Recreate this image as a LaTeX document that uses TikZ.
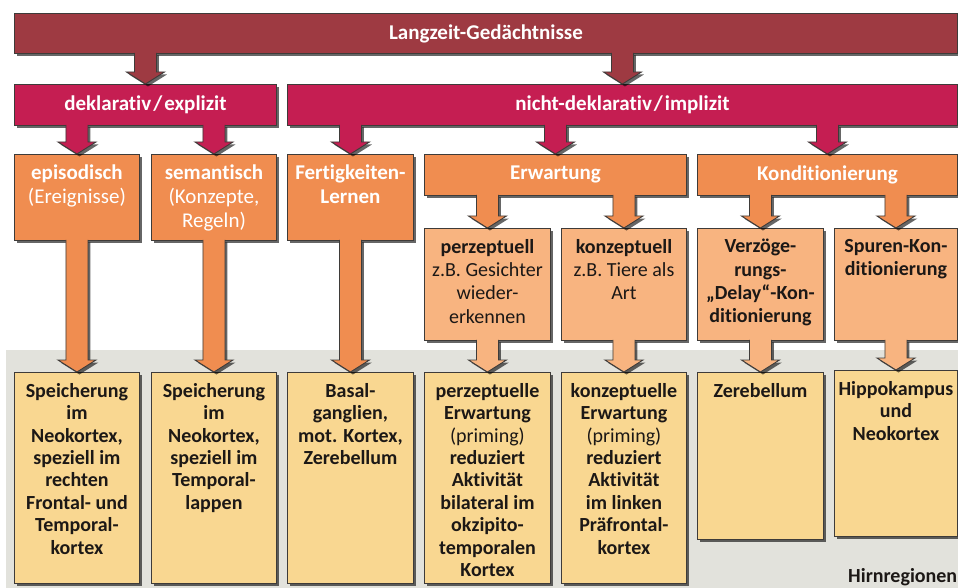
\documentclass[tikz,border=0pt]{standalone}
\usepackage{fontspec}
\setmainfont{Carlito}[Ligatures=NoCommon]
\usetikzlibrary{calc,shadows}
\definecolor{lzgred}{RGB}{158,58,66}
\definecolor{crim}{RGB}{197,30,82}
\definecolor{orng}{RGB}{240,141,80}
\definecolor{lorng}{RGB}{248,180,128}
\definecolor{pale}{RGB}{249,215,145}
\definecolor{grbg}{RGB}{226,226,220}
\definecolor{ink}{RGB}{28,24,22}

\begin{document}
\begin{tikzpicture}[x=1pt,y=-1pt,
    shd/.style={drop shadow={shadow xshift=2.5pt,shadow yshift=-2.5pt,opacity=.6,fill=black}},
    box/.style={draw=ink!85,line width=.9pt,anchor=north west,inner sep=0pt,shd},
    hd/.style={text=white,font=\fontsize{21}{24}\selectfont\bfseries},
    md/.style={text=ink,font=\fontsize{20}{23.3}\selectfont},
    lo/.style={text=ink,font=\fontsize{20}{22.4}\selectfont\bfseries},
    tl/.style={anchor=north,align=center,inner sep=0pt,yshift=-11pt},
    fat/.style={draw=ink!85,line width=.9pt,shd,
      to path={let \p1=(\tikztostart),\p2=(\tikztotarget) in
        (\x1-11pt,\y1+1pt) -- (\x1-11pt,\y2+12pt) -- (\x1-19pt,\y2+12pt) -- (\x2,\y2)
        -- (\x1+19pt,\y2+12pt) -- (\x1+11pt,\y2+12pt) -- (\x1+11pt,\y1+1pt)}}]
    \useasboundingbox (0,0) rectangle (958,588);
    \fill[white] (0,0) rectangle (958,588);
    \fill[grbg] (6,350) rectangle (958,588);

    \node[box,hd,fill=lzgred,minimum width=943,minimum height=40] (lzg) at (14,13) {Langzeit-Gedächtnisse};
    \node[box,hd,fill=crim,minimum width=262,minimum height=41] (dekl) at (14,84) {deklarativ\kern2pt/\kern2pt explizit};
    \node[box,hd,fill=crim,minimum width=670,minimum height=41] (nicht) at (287,84) {nicht-deklarativ\kern2pt/\kern2pt implizit};

    \node[box,fill=orng,minimum width=125,minimum height=86] (epi) at (14,154) {};
    \node[box,fill=orng,minimum width=125,minimum height=86] (sem) at (151,154) {};
    \node[box,fill=orng,minimum width=126,minimum height=86] (fert) at (287,154) {};
    \node[box,hd,fill=orng,minimum width=262,minimum height=41] (erw) at (424,154) {Erwartung};
    \node[box,hd,fill=orng,minimum width=260,minimum height=41] (kond) at (697,154) {Konditionierung};
    \node[tl,hd] at (epi.north) {episodisch\\\mdseries(Ereignisse)};
    \node[tl,hd] at (sem.north) {semantisch\\\mdseries(Konzepte,\\\mdseries Regeln)};
    \node[tl,hd] at (fert.north) {Fertigkeiten-\\Lernen};

    \node[box,fill=lorng,minimum width=126,minimum height=112] (perz) at (424,228) {};
    \node[box,fill=lorng,minimum width=125,minimum height=112] (konz) at (561,228) {};
    \node[box,fill=lorng,minimum width=126,minimum height=112] (verz) at (697,228) {};
    \node[box,fill=lorng,minimum width=123,minimum height=112] (spur) at (834,228) {};
    \node[tl,md] at (perz.north) {\textbf{perzeptuell}\\z.B. Gesichter\\wieder-\\erkennen};
    \node[tl,md] at (konz.north) {\textbf{konzeptuell}\\z.B. Tiere als\\Art};
    \node[tl,md,font=\fontsize{20}{23.3}\selectfont\bfseries] at (verz.north) {Verzöge-\\rungs-\\„Delay“-Kon-\\ditionierung};
    \node[tl,md,font=\fontsize{20}{23.3}\selectfont\bfseries] at (spur.north) {Spuren-Kon-\\ditionierung};

    \node[box,fill=pale,minimum width=125,minimum height=211] (reg1) at (14,372) {};
    \node[box,fill=pale,minimum width=125,minimum height=211] (reg2) at (151,372) {};
    \node[box,fill=pale,minimum width=126,minimum height=211] (reg3) at (287,372) {};
    \node[box,fill=pale,minimum width=126,minimum height=211] (reg4) at (424,372) {};
    \node[box,fill=pale,minimum width=125,minimum height=211] (reg5) at (561,372) {};
    \node[box,fill=pale,minimum width=126,minimum height=167] (reg6) at (697,372) {};
    \node[box,fill=pale,minimum width=123,minimum height=166] (reg7) at (834,370) {};
    \node[tl,lo] at (reg1.north) {Speicherung\\im\\Neokortex,\\speziell im\\rechten\\Frontal- und\\Temporal-\\kortex};
    \node[tl,lo] at (reg2.north) {Speicherung\\im\\Neokortex,\\speziell im\\Temporal-\\lappen};
    \node[tl,lo] at (reg3.north) {Basal-\\ganglien,\\mot. Kortex,\\Zerebellum};
    \node[tl,lo] at (reg4.north) {perzeptuelle\\Erwartung\\\mdseries(priming)\\reduziert\\Aktivität\\bilateral im\\okzipito-\\temporalen\\Kortex};
    \node[tl,lo] at (reg5.north) {konzeptuelle\\Erwartung\\\mdseries(priming)\\reduziert\\Aktivität\\im linken\\Präfrontal-\\kortex};
    \node[tl,lo] at (reg6.north) {Zerebellum};
    \node[tl,lo] at (reg7.north) {Hippokampus\\und\\Neokortex};
    \node[lo,anchor=base west,inner sep=0pt] (hirn) at (848,582) {Hirnregionen};

    \foreach \a/\b/\c in {lzg/dekl/lzgred,lzg/nicht/lzgred,
        dekl/epi/crim,dekl/sem/crim,nicht/fert/crim,nicht/erw/crim,nicht/kond/crim,
        epi/reg1/orng,sem/reg2/orng,fert/reg3/orng,
        erw/perz/orng,erw/konz/orng,kond/verz/orng,kond/spur/orng,
        perz/reg4/lorng,konz/reg5/lorng,verz/reg6/lorng,spur/reg7/lorng}
      \draw[fat,fill=\c] (\b.north |- \a.south) to (\b.north);
\end{tikzpicture}
\end{document}
